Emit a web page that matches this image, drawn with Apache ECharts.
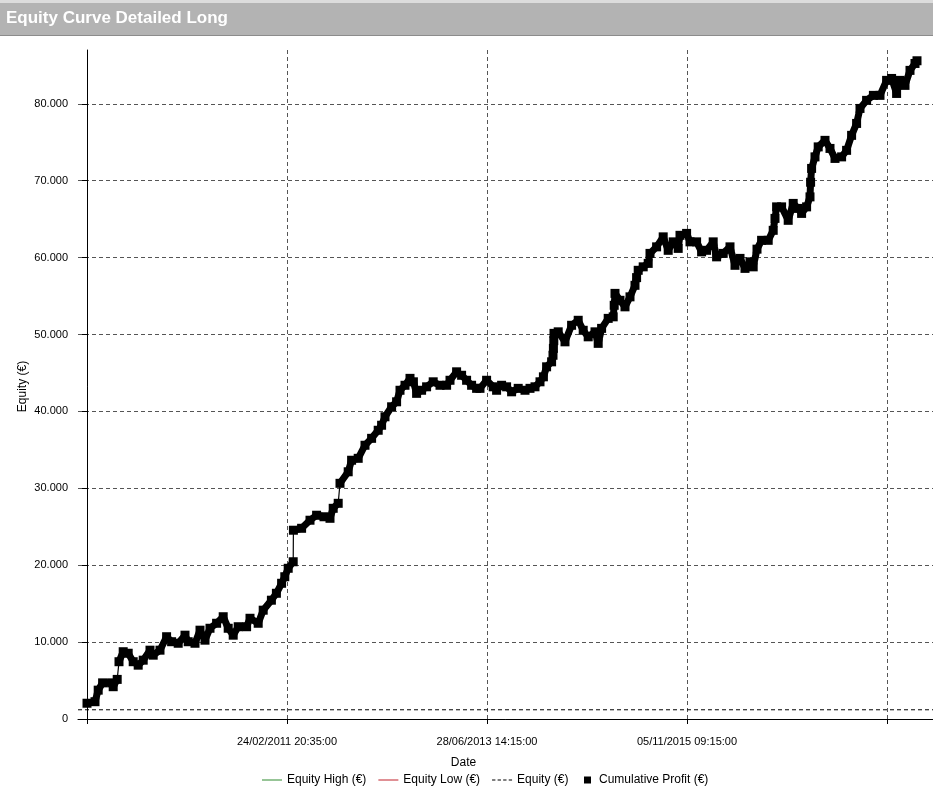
<!DOCTYPE html>
<html>
<head>
<meta charset="utf-8">
<script src="https://cdn.jsdelivr.net/npm/echarts@6/dist/echarts.min.js"></script>
<style>
  html, body { margin: 0; padding: 0; background: #ffffff; }
  #chart { width: 933px; height: 793px; }
</style>
</head>
<body>
<div id="chart"></div>
<script>
// ---- Data ----
const chartTitle = 'Equity Curve Detailed Long';
// x position: trade/bar index along the date axis
const xTickValues = [0, 1000, 2000, 3000, 4000];
const xLabelValues = [1000, 2000, 3000];
const xTickLabels = ['24/02/2011 20:35:00', '28/06/2013 14:15:00', '05/11/2015 09:15:00'];
const yTickValues = [0, 10000, 20000, 30000, 40000, 50000, 60000, 70000, 80000];
const xMin = -45, xMax = 4230, yMin = -520, yMax = 87000;

const profitX = [0, 40, 56, 78, 123, 131, 151, 160, 181, 206, 231, 256, 281, 315, 331, 365, 398, 423, 456, 490,
  506, 540, 565, 590, 615, 648, 681, 706, 731, 756, 798, 815, 856, 881, 922, 947, 973, 989, 1006, 1031,
  1032, 1073, 1115, 1148, 1185, 1215, 1231, 1256, 1265, 1306, 1323, 1356, 1390, 1423, 1456, 1473, 1490, 1523, 1548, 1565,
  1590, 1615, 1632, 1648, 1673, 1698, 1731, 1765, 1798, 1815, 1848, 1873, 1898, 1923, 1948, 1965, 1998, 2031, 2048, 2073,
  2098, 2123, 2156, 2190, 2215, 2240, 2265, 2282, 2298, 2323, 2330, 2332, 2334, 2335, 2356, 2390, 2423, 2456, 2481, 2506,
  2540, 2556, 2573, 2606, 2631, 2636, 2640, 2665, 2690, 2715, 2740, 2748, 2756, 2781, 2806, 2815, 2848, 2881, 2906, 2931,
  2956, 2965, 2998, 3015, 3048, 3073, 3098, 3131, 3148, 3181, 3215, 3240, 3265, 3290, 3315, 3331, 3350, 3373, 3406, 3431,
  3440, 3448, 3473, 3506, 3531, 3556, 3573, 3598, 3615, 3618, 3623, 3640, 3656, 3690, 3715, 3740, 3773, 3798, 3823, 3848,
  3865, 3898, 3932, 3965, 3998, 4023, 4048, 4065, 4090, 4115, 4140, 4150];
const profitY = [2050, 2250, 3750, 4700, 4700, 4200, 5150, 7450, 8750, 8550, 7450, 7000, 7650, 8950, 8300, 8950, 10700, 10050, 9850, 10900,
  10050, 9850, 11550, 10250, 11800, 12450, 13300, 11800, 10900, 12000, 12000, 13100, 12450, 14150, 15450, 16350, 17650, 18500, 19600, 20450,
  24550, 24800, 25850, 26500, 26300, 26100, 27400, 28050, 30650, 32150, 33650, 33900, 35600, 36500, 37550, 38200, 39300, 40600, 41250, 42750,
  43400, 44300, 43850, 42350, 42750, 43200, 43850, 43400, 43400, 44050, 45150, 44700, 44050, 43400, 43000, 43000, 44050, 43200, 42750, 43400,
  43200, 42550, 43000, 42750, 43000, 43200, 43850, 44500, 45800, 46450, 47300, 48200, 49200, 50150, 50350, 49050, 51200, 51850, 50550, 49700,
  50350, 48850, 50800, 52100, 52300, 53800, 55350, 54450, 53600, 54900, 56400, 57400, 58350, 58800, 59250, 60550, 61400, 62700, 60950, 62050,
  61200, 62900, 63150, 62050, 62050, 60750, 60950, 62050, 60100, 60550, 61400, 59000, 59900, 58600, 59450, 58800, 61100, 62250, 62250, 63550,
  65100, 66600, 66600, 64850, 67050, 66400, 65750, 66600, 67900, 69800, 71600, 73100, 74400, 75250, 74200, 72900, 73100, 73950, 75900, 77450,
  79400, 80450, 81100, 81100, 83050, 83300, 81350, 83050, 82400, 84350, 85250, 85600];
// gaps between trades where the curve is drawn only by a thin connector (index of the point before the gap)
const thinGapAfter = [0, 6, 39, 47];

const equityX = [xMin, xMax];
const equityY = [1200, 1200];

const seriesNames = ['Equity High (€)', 'Equity Low (€)', 'Equity (€)', 'Cumulative Profit (€)'];

// ---- Build ----
const zip = (xs, ys) => xs.map((x, i) => [x, ys[i]]);
const bandData = [];
profitX.forEach((x, i) => {
  bandData.push([x, profitY[i]]);
  if (thinGapAfter.indexOf(i) >= 0) bandData.push([x, null]);
});
const fmtThousands = v => Math.round(v).toString().replace(/\B(?=(\d{3})+(?!\d))/g, '.');
const FONT = 'Liberation Sans';
const lineIcon = 'path://M0,0H20V1H0Z';
const dashIcon = 'path://M0,0H3V1H0Z M5,0H8V1H5Z M10,0H13V1H10Z M15,0H18V1H15Z';

const chart = echarts.init(document.getElementById('chart'), null, { renderer: 'canvas' });
chart.setOption({
  animation: false,
  backgroundColor: '#ffffff',
  graphic: [
    { type: 'rect', left: 0, top: 0, z: -10, shape: { width: 933, height: 35 }, style: { fill: '#b3b3b3' } },
    { type: 'rect', left: 0, top: 0, z: -9, shape: { width: 933, height: 3 }, style: { fill: '#dcdcdc' } },
    { type: 'rect', left: 0, top: 35, z: -9, shape: { width: 933, height: 1 }, style: { fill: '#8c8c8c' } }
  ],
  title: {
    text: chartTitle,
    left: 6, top: 10,
    padding: 0,
    textStyle: { color: '#ffffff', fontSize: 17, fontWeight: 'bold', fontFamily: FONT }
  },
  grid: { left: 78, right: 0, top: 50, bottom: 70, containLabel: false },
  legend: [
    {
      left: 262, top: 774, padding: 0,
      itemWidth: 20, itemHeight: 8, itemGap: 12,
      symbolKeepAspect: true,
      textStyle: { fontSize: 12, color: '#000', fontFamily: FONT },
      data: [
        { name: seriesNames[0], icon: lineIcon },
        { name: seriesNames[1], icon: lineIcon },
        { name: seriesNames[2], icon: dashIcon }
      ]
    },
    {
      left: 584, top: 774, padding: 0,
      itemWidth: 7, itemHeight: 7,
      textStyle: { fontSize: 12, color: '#000', fontFamily: FONT, padding: [0, 0, 0, 3] },
      data: [{ name: seriesNames[3], icon: 'rect' }]
    }
  ],
  xAxis: {
    type: 'value', min: xMin, max: xMax,
    name: 'Date', nameLocation: 'middle', nameGap: 34,
    nameTextStyle: { fontSize: 12, color: '#000', fontFamily: FONT, padding: [0, 84, 0, 0] },
    axisLine: { show: true, lineStyle: { color: '#000', width: 1 } },
    axisTick: { show: true, length: 5, customValues: xTickValues, lineStyle: { color: '#000' } },
    axisLabel: {
      customValues: xLabelValues, margin: 13,
      fontSize: 11, color: '#000', fontFamily: FONT,
      formatter: v => { const i = xLabelValues.indexOf(v); return i >= 0 ? xTickLabels[i] : ''; }
    },
    splitLine: { show: true, lineStyle: { color: '#555', width: 1, type: [4, 3] } }
  },
  yAxis: {
    type: 'value', min: yMin, max: yMax,
    name: 'Equity (€)', nameLocation: 'middle', nameGap: 49, nameRotate: 90, nameMoveOverlap: false,
    nameTextStyle: { fontSize: 12, color: '#000', fontFamily: FONT },
    axisLine: { show: true, lineStyle: { color: '#000', width: 1 } },
    axisTick: { show: true, length: 5, customValues: yTickValues, lineStyle: { color: '#000' } },
    axisLabel: {
      customValues: yTickValues, margin: 10,
      fontSize: 11, color: '#000', fontFamily: FONT,
      formatter: v => fmtThousands(v)
    },
    splitLine: { show: true, lineStyle: { color: '#555', width: 1, type: [4, 3] } }
  },
  series: [
    { name: seriesNames[0], type: 'line', data: [], symbol: 'none', itemStyle: { color: '#2e8b2e' }, lineStyle: { color: '#2e8b2e', width: 1 } },
    { name: seriesNames[1], type: 'line', data: [], symbol: 'none', itemStyle: { color: '#c0202a' }, lineStyle: { color: '#c0202a', width: 1 } },
    { name: seriesNames[2], type: 'line', data: zip(equityX, equityY), symbol: 'none',
      itemStyle: { color: '#000' }, lineStyle: { color: '#000', width: 1, type: [4, 3] } },
    { name: seriesNames[3], type: 'line', data: zip(profitX, profitY),
      symbol: 'rect', symbolSize: 9, showSymbol: true, showAllSymbol: true,
      itemStyle: { color: '#000' }, lineStyle: { color: '#000', width: 1.2 }, z: 5 },
    { name: seriesNames[3], type: 'line', data: bandData, connectNulls: false,
      symbol: 'none', silent: true,
      itemStyle: { color: '#000' }, lineStyle: { color: '#000', width: 7, join: 'round', cap: 'round' }, z: 4 }
  ]
});
</script>
</body>
</html>
